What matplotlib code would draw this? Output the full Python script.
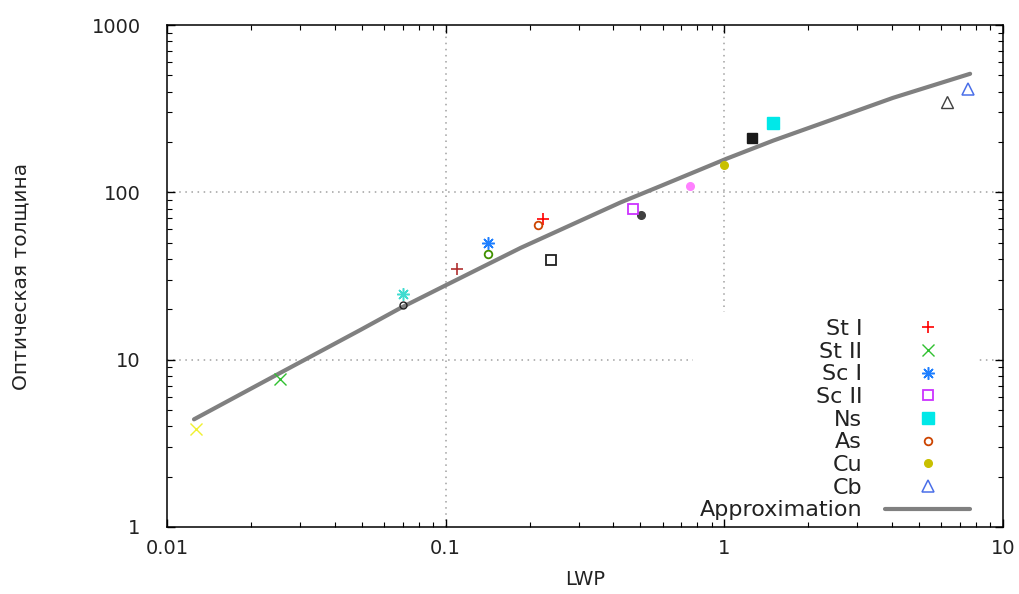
import matplotlib
matplotlib.use("Agg")
import matplotlib.pyplot as plt
from matplotlib.ticker import LogLocator, FixedLocator, NullFormatter, FixedFormatter

# ---- data ----
# labelled cloud types (legend entries)
categories = ["St I", "St II", "Sc I", "Sc II", "Ns", "As", "Cu", "Cb"]
cat_lwp = [0.223, 0.0254, 0.1415, 0.472, 1.50, 0.214, 1.00, 7.5]
cat_tau = [69.0, 7.7, 49.7, 79.0, 258.0, 63.7, 145.0, 416.0]

# additional (unlabelled) measurements
extra_lwp = [0.0127, 0.070, 0.070, 0.110, 0.1415, 0.238, 0.504, 0.755, 1.26, 6.3]
extra_tau = [3.83, 24.7, 21.2, 34.8, 42.8, 39.4, 73.0, 108.7, 212.0, 348.0]

# approximation curve
approx_lwp = [0.0125, 0.0256, 0.0496, 0.069, 0.101, 0.186, 0.424, 0.590, 1.02, 1.50, 2.34, 4.03, 7.62]
approx_tau = [4.40, 8.37, 15.1, 20.4, 28.05, 46.6, 87.0, 109.0, 159.0, 204.0, 265.5, 367.0, 511.0]

x_ticks = [0.01, 0.1, 1, 10]
x_tick_labels = ["0.01", "0.1", "1", "10"]
y_ticks = [1, 10, 100, 1000]
y_tick_labels = ["1", "10", "100", "1000"]

# ---- styles ----
AST = (8, 2, 0)  # 8-spoke asterisk like gnuplot point type 3
cat_styles = [
    dict(marker="+", color="#ff0000", ms=9, mew=1.2, mfc="none"),
    dict(marker="x", color="#30c030", ms=8, mew=1.0, mfc="none"),
    dict(marker=AST, color="#1e7fff", ms=9, mew=1.1, mfc="none"),
    dict(marker="s", color="#cc33ff", ms=7, mew=1.3, mfc="none"),
    dict(marker="s", color="#00e8e8", ms=8, mew=1.0, mfc="#00e8e8"),
    dict(marker="o", color="#cc4400", ms=5.5, mew=1.3, mfc="none"),
    dict(marker="o", color="#c8c000", ms=5.5, mew=1.0, mfc="#c8c000"),
    dict(marker="^", color="#4a6fe8", ms=8, mew=1.1, mfc="none"),
]
extra_styles = [
    dict(marker="x", color="#f0f030", ms=8, mew=1.0, mfc="none"),
    dict(marker=AST, color="#40dcd0", ms=9, mew=1.1, mfc="none"),
    dict(marker="o", color="#202020", ms=5, mew=1.0, mfc="none"),
    dict(marker="+", color="#b03030", ms=9, mew=1.2, mfc="none"),
    dict(marker="o", color="#409000", ms=5.5, mew=1.3, mfc="none"),
    dict(marker="s", color="#202020", ms=7, mew=1.3, mfc="none"),
    dict(marker="o", color="#404040", ms=5.5, mew=1.0, mfc="#404040"),
    dict(marker="o", color="#ff80ff", ms=5.5, mew=1.0, mfc="#ff80ff"),
    dict(marker="s", color="#1a1a1a", ms=7.5, mew=1.0, mfc="#1a1a1a"),
    dict(marker="^", color="#404040", ms=8, mew=1.0, mfc="none"),
]

fig = plt.figure(figsize=(10.19, 5.94), dpi=100)
ax = fig.add_axes([167 / 1019, 1 - 527 / 594, 836 / 1019, 502 / 594])
ax.set_xscale("log")
ax.set_yscale("log")
ax.set_xlim(0.01, 10)
ax.set_ylim(1, 1000)

# grid (gnuplot style dotted)
grid_kw = dict(color="#a0a0a0", lw=1.1, ls=(0, (1, 3)), zorder=0)
for xv in [0.1, 1]:
    ax.axvline(xv, **grid_kw)
for yv in [10, 100]:
    ax.axhline(yv, **grid_kw)

# approximation curve
line_handle, = ax.plot(approx_lwp, approx_tau, color="#808080", lw=3.0,
                       zorder=2, solid_capstyle="round", solid_joinstyle="round")

for xv, yv, st in zip(extra_lwp, extra_tau, extra_styles):
    ax.plot([xv], [yv], ls="none", zorder=3, **st)

handles = []
for xv, yv, st in zip(cat_lwp, cat_tau, cat_styles):
    h, = ax.plot([xv], [yv], ls="none", zorder=3, **st)
    handles.append(h)
handles.append(line_handle)

leg = ax.legend(handles=handles, labels=categories + ["Approximation"],
                loc="lower right", bbox_to_anchor=(0.969, 0.0),
                markerfirst=False, fontsize=16, handlelength=3.83,
                handletextpad=1.04, labelspacing=0.12, borderpad=0.3,
                borderaxespad=0.0, frameon=True, fancybox=False,
                framealpha=1.0, facecolor="white", edgecolor="none",
                numpoints=1)
leg.set_zorder(5)
for t in leg.get_texts():
    t.set_color("#222222")

# ticks
ax.xaxis.set_major_locator(FixedLocator(x_ticks))
ax.xaxis.set_major_formatter(FixedFormatter(x_tick_labels))
ax.yaxis.set_major_locator(FixedLocator(y_ticks))
ax.yaxis.set_major_formatter(FixedFormatter(y_tick_labels))
ax.xaxis.set_minor_locator(LogLocator(base=10, subs=range(2, 10)))
ax.yaxis.set_minor_locator(LogLocator(base=10, subs=range(2, 10)))
ax.xaxis.set_minor_formatter(NullFormatter())
ax.yaxis.set_minor_formatter(NullFormatter())
ax.tick_params(which="both", direction="in", top=True, right=True, color="black")
ax.tick_params(which="major", length=6, width=1.0)
ax.tick_params(which="minor", length=3.5, width=0.8)
ax.tick_params(axis="x", which="major", labelsize=14, pad=9)
ax.tick_params(axis="y", which="major", labelsize=14, pad=19)
for lab in ax.get_xticklabels() + ax.get_yticklabels():
    lab.set_color("#222222")
# keep tick marks visible above the opaque legend box
ax.xaxis.set_zorder(6)
ax.yaxis.set_zorder(6)

for sp in ax.spines.values():
    sp.set_color("black")
    sp.set_linewidth(1.1)
    sp.set_zorder(6)

ax.set_xlabel("LWP", fontsize=14, color="#222222", labelpad=8)
ax.set_ylabel("Оптическая толщина", fontsize=14.5, color="#222222")
ax.yaxis.set_label_coords(-0.163, 0.5)

fig.savefig("out.png", dpi=100, facecolor="white")
